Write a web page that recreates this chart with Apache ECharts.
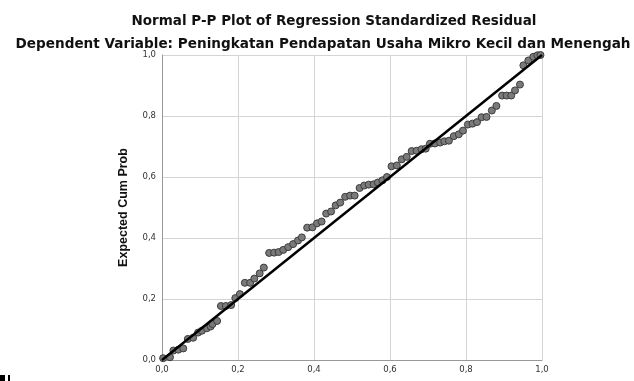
<!DOCTYPE html>
<html><head><meta charset="utf-8">
<script src="https://cdn.jsdelivr.net/npm/echarts@6/dist/echarts.min.js"></script>
<style>html,body{margin:0;padding:0;background:#fff}#c{width:634px;height:381px}</style>
</head><body><div id="c"></div>
<script>
var titleText = "Normal P-P Plot of Regression Standardized Residual";
var subtitleText = "Dependent Variable: Peningkatan Pendapatan Usaha Mikro Kecil dan Menengah";
var yAxisName = "Expected Cum Prob";
var tickValues = [0, 0.2, 0.4, 0.6, 0.8, 1.0];
var observedCumProb = [0.003,0.021,0.030,0.043,0.056,0.068,0.082,0.095,0.105,0.118,0.128,0.133,0.145,0.155,0.168,0.182,0.193,0.205,0.218,0.232,0.243,0.257,0.268,0.282,0.295,0.307,0.319,0.332,0.345,0.358,0.368,0.382,0.396,0.408,0.420,0.432,0.445,0.457,0.469,0.482,0.495,0.507,0.520,0.532,0.544,0.557,0.568,0.580,0.592,0.604,0.618,0.631,0.644,0.657,0.670,0.683,0.694,0.705,0.718,0.732,0.743,0.755,0.768,0.781,0.792,0.805,0.817,0.829,0.841,0.854,0.868,0.880,0.895,0.907,0.919,0.929,0.942,0.951,0.964,0.977,0.988,0.996];
var expectedCumProb = [0.006,0.009,0.031,0.034,0.038,0.069,0.073,0.090,0.096,0.104,0.110,0.118,0.128,0.177,0.177,0.180,0.203,0.216,0.253,0.253,0.267,0.284,0.303,0.351,0.352,0.354,0.361,0.370,0.380,0.392,0.402,0.434,0.435,0.448,0.454,0.480,0.487,0.507,0.516,0.535,0.539,0.539,0.564,0.572,0.575,0.576,0.582,0.589,0.600,0.635,0.638,0.658,0.666,0.685,0.686,0.691,0.693,0.709,0.710,0.713,0.717,0.719,0.734,0.740,0.752,0.772,0.775,0.780,0.796,0.797,0.818,0.833,0.867,0.867,0.867,0.884,0.903,0.966,0.982,0.994,0.999,1.000];
var refLine = [[0, 0], [1, 1]];

var pts = observedCumProb.map(function(x, i){ return [x, expectedCumProb[i]]; });
function fmt(v){ return v.toFixed(1).replace('.', ','); }
var FONT = '"DejaVu Sans", "Liberation Sans", Arial, sans-serif';
var chart = echarts.init(document.getElementById('c'), null, {renderer:'canvas'});
chart.setOption({
  animation: false,
  backgroundColor: '#fff',
  title: [
    {text: titleText, left: 329, top: 9, textAlign: 'center',
     textStyle: {fontFamily: FONT, fontSize: 13.5, fontWeight: 'bold', color: '#111'}},
    {text: subtitleText, left: 318, top: 32, textAlign: 'center',
     textStyle: {fontFamily: FONT, fontSize: 13.6, fontWeight: 'bold', color: '#111'}}
  ],
  grid: {left: 162, right: 92, top: 55, bottom: 21, show: false},
  xAxis: {
    type: 'value', min: 0, max: 1, interval: 0.2,
    axisLine: {show: true, lineStyle: {color: '#999', width: 1}},
    axisTick: {show: false},
    splitLine: {show: true, lineStyle: {color: '#d4d4d4', width: 1}},
    axisLabel: {formatter: fmt, fontFamily: FONT, fontSize: 8.5, color: '#333', margin: 5}
  },
  yAxis: {
    type: 'value', min: 0, max: 1, interval: 0.2,
    name: yAxisName, nameLocation: 'middle', nameGap: 32, nameRotate: 90,
    nameTextStyle: {fontFamily: '"Liberation Sans", Arial, sans-serif', fontSize: 12.5, fontWeight: 'bold', color: '#111'},
    axisLine: {show: true, lineStyle: {color: '#999', width: 1}},
    axisTick: {show: false},
    splitLine: {show: true, lineStyle: {color: '#d4d4d4', width: 1}},
    axisLabel: {formatter: fmt, fontFamily: FONT, fontSize: 8.5, color: '#333', margin: 6}
  },
  series: [
    {type: 'scatter', data: pts, symbol: 'circle', symbolSize: 7, clip: false, z: 2,
     itemStyle: {color: '#7a7a7a', borderColor: '#3c3c3c', borderWidth: 1, opacity: 1}},
    {type: 'line', data: refLine, symbol: 'none', z: 3, silent: true,
     lineStyle: {color: '#000', width: 2.5}}
  ],
  graphic: [
    {type: 'rect', left: 0, top: 375, shape: {width: 5, height: 6}, style: {fill: '#000'}},
    {type: 'rect', left: 8, top: 375, shape: {width: 2, height: 6}, style: {fill: '#000'}}
  ]
});
</script></body></html>
